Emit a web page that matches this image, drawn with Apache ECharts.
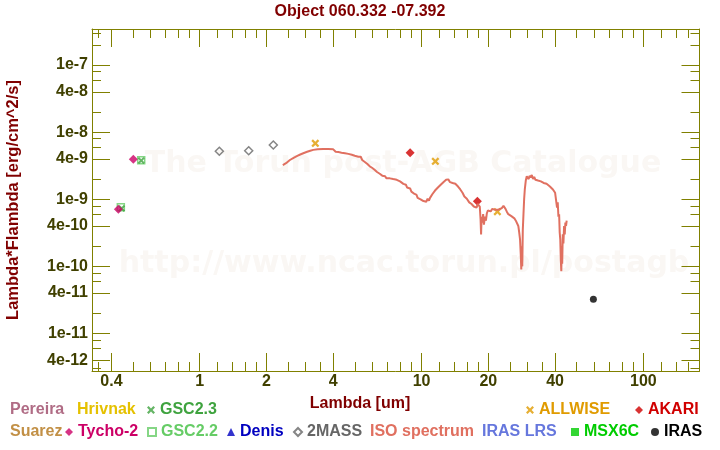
<!DOCTYPE html>
<html><head><meta charset="utf-8">
<script src="https://cdn.jsdelivr.net/npm/echarts@6/dist/echarts.min.js"></script>
<style>html,body{margin:0;padding:0;background:#fff}#c{width:720px;height:450px}</style>
</head><body><div id="c"></div>
<script>
// ---------- texts ----------
const titleText = 'Object 060.332 -07.392';
const xAxisName = 'Lambda [um]';
const yAxisName = 'Lambda*Flambda [erg/cm^2/s]';
const watermark1 = 'The Torun post-AGB Catalogue';
const watermark2 = 'http://www.ncac.torun.pl/postagb';

// ---------- axes ----------
const xRange = [0.327, 179];
const yRange = [2.76e-12, 3.45e-7];
const xTickValues = [0.4, 1, 2, 4, 10, 20, 40, 100];
const xTickLabels = ['0.4', '1', '2', '4', '10', '20', '40', '100'];
const xMinorTicks = [0.35, 0.5, 0.6, 0.7, 0.8, 0.9, 1.2, 1.4, 1.6, 1.8, 2.5, 3, 3.5, 5, 6, 7, 8, 9,
  12, 14, 16, 18, 25, 30, 35, 50, 60, 70, 80, 90, 120, 140, 160];
const yTickValues = [1e-7, 4e-8, 1e-8, 4e-9, 1e-9, 4e-10, 1e-10, 4e-11, 1e-11, 4e-12];
const yTickLabels = ['1e-7', '4e-8', '1e-8', '4e-9', '1e-9', '4e-10', '1e-10', '4e-11', '1e-11', '4e-12'];
const yMinorTicks = [3e-7, 2e-7, 8e-8, 6e-8, 2e-8, 8e-9, 6e-9, 2e-9, 8e-10, 6e-10, 2e-10,
  8e-11, 6e-11, 2e-11, 8e-12, 6e-12, 3e-12];

// ---------- photometry [lambda um, lambda*F_lambda] ----------
const tycho2 = [[0.430, 7.1e-10], [0.502, 3.94e-9]];
const gsc22 = [[0.441, 7.6e-10], [0.545, 3.81e-9]];
const gsc23 = [[0.445, 7.3e-10], [0.545, 3.78e-9]];
const twomass = [[1.226, 5.19e-9], [1.663, 5.30e-9], [2.147, 6.44e-9]];
const allwise = [[3.32, 6.83e-9], [11.54, 3.68e-9], [21.97, 6.53e-10]];
const akari = [[8.88, 4.95e-9], [17.85, 9.34e-10]];
const iras = [[59.5, 3.24e-11]];
const pereira = [];
const hrivnak = [];
const suarez = [];
const denis = [];
const irasLrs = [];
const msx6c = [];

// ---------- ISO spectrum [lambda um, lambda*F_lambda] ----------
const isoSpectrum = [
  [2.37,3.24e-9],[2.45,3.45e-9],[2.55,3.85e-9],[2.65,4.15e-9],[2.74,4.4e-9],[2.84,4.65e-9],[2.93,4.85e-9],
  [3.05,5.1e-9],[3.15,5.3e-9],[3.25,5.45e-9],[3.4,5.55e-9],[3.6,5.6e-9],[3.8,5.6e-9],[4.0,5.55e-9],
  [4.07,5.5e-9],[4.1,5.1e-9],[4.15,5.4e-9],[4.22,5.05e-9],[4.29,5.15e-9],[4.36,4.95e-9],[4.45,5.1e-9],
  [4.52,4.85e-9],[4.6,5.0e-9],[4.68,4.75e-9],[4.76,4.9e-9],[4.85,4.6e-9],[4.93,4.7e-9],[5.0,4.45e-9],
  [5.1,4.6e-9],[5.19,4.3e-9],[5.25,4.1e-9],[5.32,4.3e-9],[5.4,3.85e-9],[5.47,3.95e-9],[5.55,3.6e-9],
  [5.62,3.75e-9],[5.7,3.35e-9],[5.76,3.5e-9],[5.84,3.1e-9],[5.9,3.3e-9],[5.98,2.95e-9],[6.06,3.05e-9],
  [6.14,2.75e-9],[6.22,2.9e-9],[6.3,2.55e-9],[6.39,2.65e-9],[6.48,2.4e-9],[6.56,2.5e-9],[6.65,2.25e-9],
  [6.73,2.15e-9],[6.85,2.2e-9],[6.95,2.05e-9],[7.05,2.15e-9],[7.2,2.05e-9],[7.3,2.12e-9],[7.45,2.0e-9],
  [7.6,2.08e-9],[7.73,1.95e-9],[7.85,2.02e-9],[8.0,1.85e-9],[8.1,1.9e-9],[8.28,1.7e-9],
  [8.4,1.6e-9],[8.5,1.65e-9],[8.6,1.5e-9],[8.75,1.42e-9],[8.88,1.45e-9],[9.0,1.3e-9],[9.15,1.32e-9],
  [9.3,1.2e-9],[9.5,1.16e-9],[9.6,1.05e-9],[9.75,1.1e-9],[9.9,1.0e-9],[10.05,1.05e-9],[10.2,0.94e-9],
  [10.35,1.0e-9],[10.5,0.92e-9],[10.65,1.02e-9],[10.8,0.95e-9],[10.92,1.05e-9],
  [11.05,1.12e-9],[11.2,1.2e-9],[11.35,1.15e-9],[11.5,1.35e-9],[11.7,1.3e-9],[11.85,1.5e-9],[12.0,1.45e-9],
  [12.2,1.65e-9],[12.35,1.6e-9],[12.54,1.8e-9],[12.7,1.72e-9],[12.9,1.95e-9],[13.0,1.85e-9],[13.2,1.98e-9],
  [13.44,1.8e-9],[13.6,1.9e-9],[13.8,1.75e-9],[14.0,1.85e-9],[14.2,1.7e-9],[14.41,1.75e-9],
  [14.6,1.55e-9],[14.8,1.6e-9],[14.95,1.4e-9],[15.1,1.45e-9],[15.3,1.25e-9],[15.44,1.3e-9],[15.6,1.1e-9],
  [15.8,1.15e-9],[16.0,1.02e-9],[16.2,1.08e-9],[16.4,0.9e-9],[16.55,0.95e-9],[16.8,0.85e-9],[17.0,0.9e-9],
  [17.2,0.78e-9],[17.43,0.82e-9],[17.7,0.75e-9],[17.9,0.85e-9],[18.1,0.8e-9],
  [18.3,0.78e-9],[18.45,0.5e-9],[18.55,0.3e-9],[18.65,0.55e-9],[18.8,0.45e-9],[18.95,0.6e-9],[19.1,0.42e-9],
  [19.3,0.55e-9],[19.5,0.48e-9],[19.7,0.62e-9],[19.9,0.68e-9],
  [20.2,0.7e-9],[20.5,0.66e-9],[20.8,0.72e-9],[21.1,0.68e-9],[21.45,0.7e-9],[21.8,0.66e-9],[22.2,0.7e-9],
  [22.6,0.68e-9],[23.0,0.74e-9],[23.4,0.8e-9],[23.7,0.85e-9],[23.9,0.72e-9],
  [24.2,0.66e-9],[24.6,0.6e-9],[25.0,0.62e-9],[25.4,0.56e-9],[25.8,0.58e-9],[26.2,0.52e-9],[26.6,0.48e-9],
  [27.0,0.45e-9],[27.3,0.4e-9],[27.55,0.32e-9],[27.8,0.25e-9],
  [28.0,0.15e-9],[28.15,0.09e-9],[28.3,0.2e-9],[28.45,0.1e-9],[28.6,0.35e-9],[28.8,0.6e-9],[29.0,1.0e-9],
  [29.2,1.4e-9],[29.5,1.9e-9],[29.8,2.2e-9],
  [30.1,2.3e-9],[30.4,2.0e-9],[30.7,2.25e-9],[31.0,2.1e-9],[31.4,2.3e-9],[31.8,2.0e-9],[32.2,2.15e-9],
  [32.6,1.95e-9],[33.0,2.05e-9],[33.5,1.9e-9],[34.0,2.0e-9],[34.5,1.85e-9],[35.0,1.9e-9],[35.5,1.75e-9],
  [36.0,1.85e-9],[36.6,1.7e-9],[37.2,1.72e-9],[37.9,1.55e-9],[38.5,1.6e-9],[39.1,1.4e-9],[39.6,1.45e-9],
  [40.0,1.25e-9],
  [40.4,1.2e-9],[40.8,0.75e-9],[41.1,0.9e-9],[41.4,0.55e-9],[41.7,0.6e-9],[41.95,0.32e-9],[42.2,0.25e-9],
  [42.45,0.12e-9],[42.65,0.085e-9],[42.85,0.2e-9],[43.05,0.11e-9],[43.3,0.3e-9],[43.6,0.22e-9],[43.9,0.4e-9],
  [44.2,0.3e-9],[44.5,0.45e-9],[44.8,0.4e-9],[45.1,0.48e-9]
];

// ---------- styling ----------
const FONT = 'Liberation Sans';
const axisColor = '#808000';
const tickLabelColor = '#404000';
const nameColor = '#800000';
const crossPath = 'path://M0,2L2,0L5,3L8,0L10,2L7,5L10,8L8,10L5,7L2,10L0,8L3,5Z';

const L10 = v => Math.log10(v);
const toXY = arr => arr.map(p => [L10(p[0]), L10(p[1])]);
function labelFmt(values, labels) {
  return v => {
    let best = 0, bd = Infinity;
    values.forEach((t, i) => { const d = Math.abs(L10(t) - v); if (d < bd) { bd = d; best = i; } });
    return labels[best];
  };
}

function xAxisDef(pos, major, showLabel, showLine) {
  return {
    type: 'value', position: pos, min: L10(xRange[0]), max: L10(xRange[1]),
    splitLine: { show: false },
    axisLine: { show: showLine, onZero: false, lineStyle: { color: axisColor, width: 1 } },
    axisTick: { show: true, inside: true, length: major ? 18 : 9,
      customValues: (major ? xTickValues : xMinorTicks).map(L10),
      lineStyle: { color: axisColor, width: 1 } },
    axisLabel: { show: showLabel, customValues: xTickValues.map(L10),
      formatter: labelFmt(xTickValues, xTickLabels), color: tickLabelColor,
      fontSize: 16, fontWeight: 'bold', fontFamily: FONT, margin: 3 }
  };
}
function yAxisDef(pos, major, showLabel, showLine, withName) {
  const a = {
    type: 'value', position: pos, min: L10(yRange[0]), max: L10(yRange[1]),
    splitLine: { show: false },
    axisLine: { show: showLine, onZero: false, lineStyle: { color: axisColor, width: 1 } },
    axisTick: { show: true, inside: true, length: major ? 18 : 9,
      customValues: (major ? yTickValues : yMinorTicks).map(L10),
      lineStyle: { color: axisColor, width: 1 } },
    axisLabel: { show: showLabel, customValues: yTickValues.map(L10),
      formatter: labelFmt(yTickValues, yTickLabels), color: tickLabelColor,
      fontSize: 16, fontWeight: 'bold', fontFamily: FONT, margin: 4 }
  };
  if (withName) {
    a.name = yAxisName; a.nameLocation = 'middle'; a.nameGap = 70; a.nameRotate = 90;
    a.nameTextStyle = { color: nameColor, fontSize: 16.5, fontWeight: 'bold', fontFamily: FONT };
  }
  return a;
}

const seriesColors = {
  'Pereira': '#b06c85', 'Hrivnak': '#e5c100', 'GSC2.3': '#3fa33f', 'ALLWISE': '#e09b00',
  'AKARI': '#d00000', 'Suarez': '#c29046', 'Tycho-2': '#cc0066', 'GSC2.2': '#66cc66',
  'Denis': '#0000c0', '2MASS': '#666666', 'ISO spectrum': '#e07060', 'IRAS LRS': '#6677dd',
  'MSX6C': '#00cc00', 'IRAS': '#000000'
};

const legendLayout = [
  { name: 'Pereira', left: 5, top: 402, noIcon: true },
  { name: 'Hrivnak', left: 72, top: 402, noIcon: true },
  { name: 'GSC2.3', left: 147, top: 402 },
  { name: 'ALLWISE', left: 526, top: 402 },
  { name: 'AKARI', left: 635, top: 402 },
  { name: 'Suarez', left: 5, top: 424, noIcon: true },
  { name: 'Tycho-2', left: 65, top: 424 },
  { name: 'GSC2.2', left: 147, top: 424 },
  { name: 'Denis', left: 227, top: 424 },
  { name: '2MASS', left: 293, top: 424 },
  { name: 'ISO spectrum', left: 365, top: 424, noIcon: true },
  { name: 'IRAS LRS', left: 477, top: 424, noIcon: true },
  { name: 'MSX6C', left: 571, top: 424 },
  { name: 'IRAS', left: 651, top: 424 }
];

function scatter(name, data, symbol, size, hollow) {
  const c = seriesColors[name];
  return {
    name, type: 'scatter', data: toXY(data), symbol, symbolSize: size,
    xAxisIndex: 0, yAxisIndex: 0, silent: true,
    itemStyle: hollow ? { color: 'rgba(255,255,255,0)', borderColor: c, borderWidth: 1.5 } : { color: c }
  };
}

const chart = echarts.init(document.getElementById('c'), null, { renderer: 'canvas' });
chart.setOption({
  animation: false,
  backgroundColor: '#ffffff',
  title: [
    { text: titleText, left: 'center', top: 4, padding: 0,
      textStyle: { color: nameColor, fontSize: 16, fontWeight: 'bold', fontFamily: FONT } },
    { text: xAxisName, left: 'center', top: 396, padding: 0,
      textStyle: { color: nameColor, fontSize: 16, fontWeight: 'bold', fontFamily: FONT } }
  ],
  grid: { left: 92, top: 29, width: 607.5, height: 342, containLabel: false, outerBoundsMode: 'none' },
  xAxis: [
    xAxisDef('bottom', true, true, true),
    xAxisDef('bottom', false, false, false),
    xAxisDef('top', true, false, true),
    xAxisDef('top', false, false, false)
  ],
  yAxis: [
    yAxisDef('left', true, true, true, true),
    yAxisDef('left', false, false, false, false),
    yAxisDef('right', true, false, true, false),
    yAxisDef('right', false, false, false, false)
  ],
  graphic: [
    { type: 'text', x: 403, y: 164, silent: true, z: -10,
      style: { text: watermark1, fill: '#faf7f4', fontSize: 30, fontWeight: 'bold',
        fontFamily: 'DejaVu Sans', align: 'center', verticalAlign: 'middle' } },
    { type: 'text', x: 404, y: 264, silent: true, z: -10,
      style: { text: watermark2, fill: '#faf7f4', fontSize: 30, fontWeight: 'bold',
        fontFamily: 'DejaVu Sans', align: 'center', verticalAlign: 'middle' } }
  ],
  legend: legendLayout.map(l => ({
    data: [{ name: l.name, icon: l.noIcon ? 'none' : undefined }],
    left: l.left, top: l.top, padding: 0, selectedMode: false,
    itemWidth: l.noIcon ? 0 : 8, itemHeight: 8,
    textStyle: { color: seriesColors[l.name], fontSize: 16, fontWeight: 'bold', fontFamily: FONT }
  })),
  series: [
    { name: 'ISO spectrum', type: 'line', data: toXY(isoSpectrum), symbol: 'none', showSymbol: false,
      xAxisIndex: 0, yAxisIndex: 0, silent: true,
      lineStyle: { color: seriesColors['ISO spectrum'], width: 2 },
      itemStyle: { color: seriesColors['ISO spectrum'] } },
    scatter('IRAS LRS', irasLrs, 'circle', 6, false),
    scatter('Pereira', pereira, 'circle', 6, false),
    scatter('Hrivnak', hrivnak, 'circle', 6, false),
    scatter('Suarez', suarez, 'circle', 6, false),
    scatter('Denis', denis, 'triangle', 8, false),
    scatter('MSX6C', msx6c, 'rect', 7, false),
    scatter('GSC2.2', gsc22, 'rect', 7, true),
    scatter('GSC2.3', gsc23, crossPath, 7, false),
    scatter('Tycho-2', tycho2, 'diamond', 9, false),
    scatter('2MASS', twomass, 'diamond', 8, true),
    scatter('ALLWISE', allwise, crossPath, 8, false),
    scatter('AKARI', akari, 'diamond', 9, false),
    scatter('IRAS', iras, 'circle', 7, false)
  ]
});
</script>
</body></html>
